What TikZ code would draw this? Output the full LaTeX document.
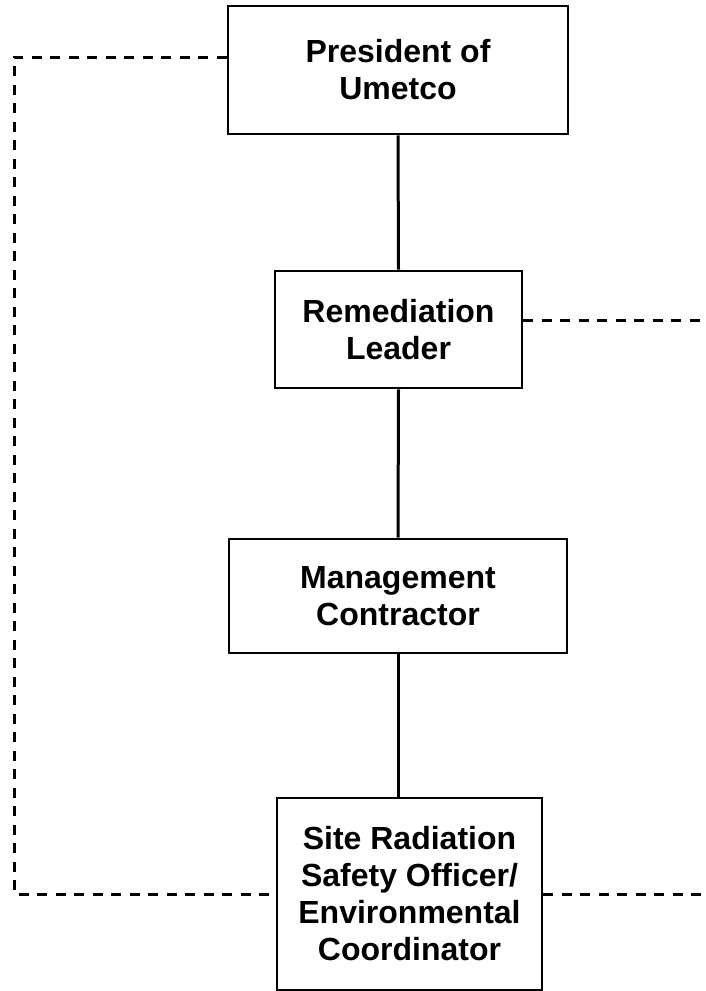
\documentclass[tikz,border=0pt]{standalone}
\usepackage{fontspec}
\setmainfont{Liberation Sans}
\usepackage{tikz}

\begin{document}
\begin{tikzpicture}[x=1pt,y=-1pt,
  orgbox/.style={draw, line width=2.8pt, fill=white, align=center, inner sep=0pt,
    font=\fontsize{32}{37}\selectfont\bfseries},
  solidlink/.style={line width=3pt},
  dashlink/.style={line width=3pt, dash pattern=on 10pt off 8.5pt}]
\useasboundingbox (0,0) rectangle (706,991);

\node[orgbox, minimum width=340pt, minimum height=128pt] (pres) at (398,70) {President of\\Umetco};
\node[orgbox, minimum width=247pt, minimum height=117pt] (lead) at (398.5,329.5) {Remediation\\Leader};
\node[orgbox, minimum width=338pt, minimum height=114pt] (mgmt) at (398,596) {Management\\Contractor};
\node[orgbox, minimum width=265pt, minimum height=192pt] (site) at (409.5,894) {Site Radiation\\Safety Officer/\\Environmental\\Coordinator};

\coordinate (corner) at (14,894);
\coordinate (leadend) at (706,320);
\coordinate (siteend) at (706,894);

\draw[solidlink] (pres.south) -- (lead.north);
\draw[solidlink] (lead.south) -- (mgmt.north);
\draw[solidlink] (mgmt.south) -- (mgmt.south |- site.north);

\draw[dashlink] ([yshift=13pt]pres.west) -| (corner) -- (site.west);
\draw[dashlink] (lead.east |- leadend) -- (leadend);
\draw[dashlink] (site.east) -- (siteend);
\end{tikzpicture}
\end{document}
